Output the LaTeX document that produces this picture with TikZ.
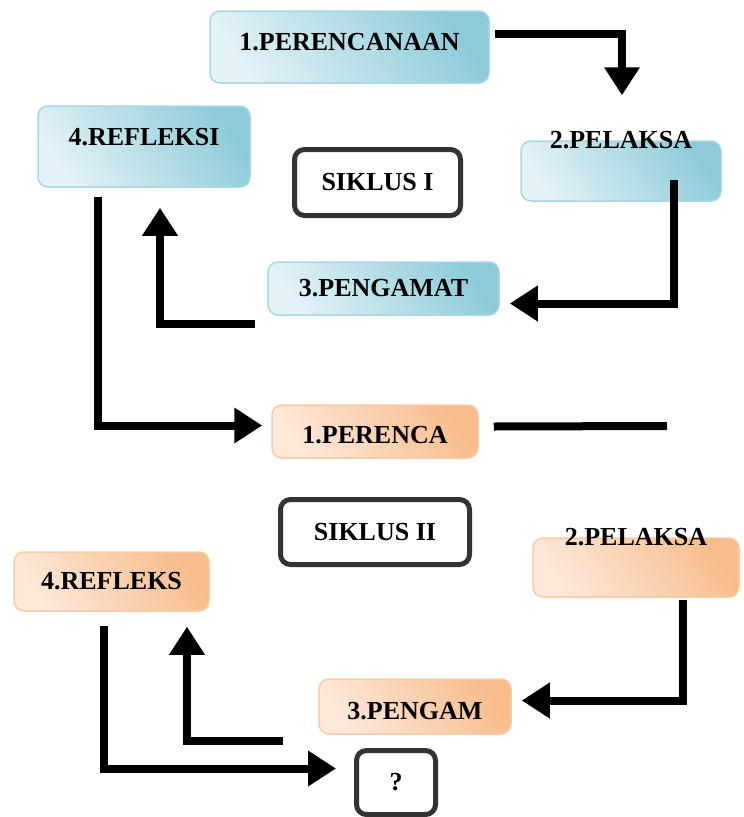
\documentclass[tikz,border=0pt]{standalone}
\usepackage{fontspec}
\setmainfont{Liberation Serif}
\usetikzlibrary{arrows.meta, calc}
\definecolor{blueD}{HTML}{8ECBD9}
\definecolor{blueL}{HTML}{E2F2F7}
\definecolor{blueB}{HTML}{A6D7E3}
\definecolor{orangeD}{HTML}{F8BD8C}
\definecolor{orangeL}{HTML}{FDE8DA}
\definecolor{orangeB}{HTML}{F9CAA4}
\tikzstyle{stage1} = [rectangle, rounded corners=10pt, draw=blueB, line width=1.5pt, bottom color=blueL, top color=blueD, shading angle=-55, inner sep=0pt, font=\fontsize{26}{30}\bfseries\selectfont]
\tikzstyle{stage2} = [rectangle, rounded corners=10pt, draw=orangeB, line width=1.5pt, bottom color=orangeL, top color=orangeD, shading angle=-55, inner sep=0pt, font=\fontsize{26}{30}\bfseries\selectfont]
\tikzstyle{cycle} = [rectangle, rounded corners=10pt, draw=black!80, line width=5pt, fill=white, inner sep=0pt, font=\fontsize{26}{30}\bfseries\selectfont]
\tikzstyle{toplabel} = [anchor=center, inner sep=0pt, font=\fontsize{26}{30}\bfseries\selectfont]
\tikzstyle{arrow} = [line width=8pt, -{Triangle[length=28pt, width=34pt]}]
\tikzstyle{plain} = [line width=8pt]

\begin{document}
\begin{tikzpicture}[x=1pt, y=-1pt]
        \useasboundingbox (0,0) rectangle (744,817);
        % siklus I
        \node (plan1) [stage1, minimum width=279pt, minimum height=72pt, text depth=10pt] at (349.5,47) {1.PERENCANAAN};
        \node (refl1) [stage1, minimum width=212pt, minimum height=81pt, text depth=20pt] at (144,146.5) {4.REFLEKSI};
        \node (cyc1) [cycle, minimum width=166pt, minimum height=66pt] at (377.5,182.5) {SIKLUS I};
        \node (act1) [stage1, minimum width=200pt, minimum height=60pt, label={[toplabel]north:2.PELAKSA}] at (621,171) {};
        \node (obs1) [stage1, minimum width=231pt, minimum height=53pt] at (383.5,288.5) {3.PENGAMAT};
        % siklus II
        \node (plan2) [stage2, minimum width=206pt, minimum height=53pt, text height=24pt] at (375,431.5) {1.PERENCA};
        \node (cyc2) [cycle, minimum width=189pt, minimum height=65pt] at (375,532) {SIKLUS II};
        \node (act2) [stage2, minimum width=206pt, minimum height=59pt, label={[toplabel]north:2.PELAKSA}] at (636,567.5) {};
        \node (refl2) [stage2, minimum width=195pt, minimum height=59pt] at (111.5,581.5) {4.REFLEKS};
        \node (obs2) [stage2, minimum width=192pt, minimum height=55pt, text height=26pt] at (415,706.5) {3.PENGAM};
        \node (next) [cycle, minimum width=79pt, minimum height=64pt] at (396,782.5) {?};
        \coordinate (open) at (667,426);
        % connectors
        \draw [arrow] ($(plan1.east)+(5,-13)$) -| ($(act1.north)+(1,-45)$);
        \draw [arrow] ($(act1.south)+(53,-22)$) |- ($(obs1.east)+(10,15)$);
        \draw [arrow] ($(obs1.west)+(-12,35)$) -| ($(refl1.south)+(16,20)$);
        \draw [arrow] ($(refl1.south)+(-46,9)$) |- ($(plan2.west)+(-9,-6)$);
        \draw [plain] ($(plan2.east)+(15,-5)$) -- (open);
        \draw [arrow] ($(act2.south)+(47,2)$) |- ($(obs2.east)+(10,-6)$);
        \draw [arrow] ($(obs2.west)+(-35,34)$) -| ($(refl2.south)+(75.5,15)$);
        \draw [arrow] ($(refl2.south)+(-7.5,14)$) |- ($(next.west)+(-18,-14)$);
    \end{tikzpicture}
\end{document}
